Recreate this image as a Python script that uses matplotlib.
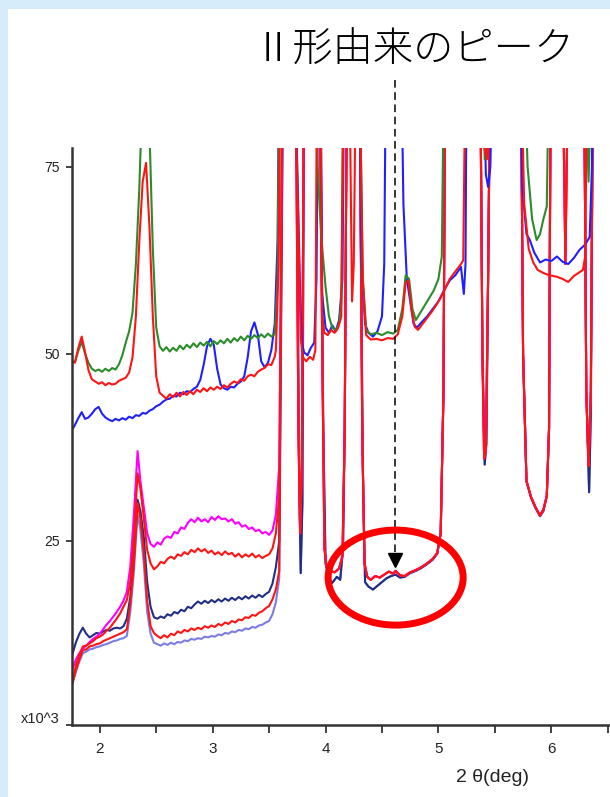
import matplotlib
matplotlib.use('Agg')
import matplotlib.pyplot as plt
from matplotlib.patches import Ellipse, Rectangle

plt.rcParams['font.family'] = ['Liberation Sans', 'DejaVu Sans']

# ---- low angle part (2theta grid) of the three upper scans
x_up = [1.754, 1.78, 1.81, 1.84, 1.87, 1.90, 1.93, 1.96, 1.99, 2.02, 2.05, 2.08, 2.11, 2.14, 2.17,
        2.20, 2.23, 2.26, 2.29, 2.32, 2.35, 2.38, 2.41, 2.44, 2.47, 2.50, 2.53, 2.56, 2.59, 2.62,
        2.65, 2.68, 2.71, 2.74, 2.77, 2.80, 2.83, 2.86, 2.89, 2.92, 2.95, 2.98, 3.01, 3.04, 3.07,
        3.10, 3.13, 3.16, 3.19, 3.22, 3.25, 3.28, 3.31, 3.34, 3.37, 3.40, 3.43, 3.46, 3.49, 3.52, 3.55]
green_left = [49.0, 48.9, 50.4, 51.6, 50.0, 48.8, 48.0, 47.7, 47.9, 47.6,
              48.0, 47.7, 48.1, 47.9, 48.6, 49.8, 51.5, 53.0, 55.5, 62.0,
              72.0, 86.0, 92.0, 80.0, 64.0, 53.5, 51.0, 50.4, 50.9, 50.3,
              50.8, 50.4, 51.1, 50.6, 51.2, 50.8, 51.4, 50.9, 51.5, 51.1,
              51.6, 51.0, 51.7, 51.3, 51.8, 51.4, 52.0, 51.5, 52.1, 51.7,
              52.3, 51.8, 52.4, 52.0, 52.5, 52.1, 52.6, 52.2, 52.7, 52.3, 52.6]
red_up_left = [49.0, 48.8, 50.8, 52.3, 50.2, 47.8, 46.6, 46.3, 46.0, 46.2,
               45.8, 46.1, 45.9, 46.0, 46.4, 46.6, 46.8, 47.5, 49.5, 55.0,
               65.0, 73.0, 75.5, 67.0, 55.0, 47.0, 44.8, 44.4, 44.0, 44.6,
               44.2, 44.8, 44.3, 44.9, 44.5, 45.0, 44.6, 45.2, 44.9, 45.4,
               45.0, 45.5, 45.2, 45.6, 45.3, 45.8, 45.5, 46.0, 46.3, 46.1,
               46.6, 46.4, 47.0, 47.2, 47.0, 47.6, 47.9, 48.1, 48.6, 48.5, 49.6]
blue_up_left = [39.8, 40.5, 41.4, 42.2, 41.3, 41.5, 42.0, 42.6, 42.9, 42.0,
                41.5, 41.2, 41.0, 41.3, 41.1, 41.4, 41.2, 41.6, 41.4, 41.8,
                41.7, 42.1, 42.0, 42.4, 42.6, 43.0, 43.2, 43.6, 43.9, 44.0,
                44.4, 44.3, 44.8, 44.6, 45.0, 44.9, 45.3, 45.6, 46.5, 48.5,
                51.0, 52.0, 51.2, 48.0, 45.9, 45.4, 45.2, 45.6, 45.5, 46.0,
                46.3, 47.0, 49.5, 53.0, 54.2, 52.6, 49.0, 48.2, 48.8, 50.5, 54.0]

# ---- high angle part of the upper scans (90 = off scale)
green_tail_x = [3.575, 3.59, 3.90, 3.93, 3.96, 4.00, 4.03, 4.06, 4.09, 4.12, 4.14, 4.16, 4.30,
                4.33, 4.36, 4.40, 4.45, 4.50, 4.55, 4.60, 4.64, 4.68, 4.71, 4.74, 4.77, 4.80,
                4.84, 4.88, 4.92, 4.96, 5.00, 5.03, 5.05, 5.39, 5.41, 5.43, 5.45, 5.76, 5.79,
                5.83, 5.87, 5.90, 5.93, 5.96, 5.98, 6.30, 6.33, 6.36, 6.52]
green_tail = [60, 90, 90, 75, 66, 59, 55, 53.5, 53.2, 54, 57, 90, 90,
              60, 53.2, 52.6, 52.8, 52.5, 52.9, 52.7, 53.2, 56, 60.5, 60, 56, 54.5,
              55.5, 56.5, 57.5, 58.5, 60, 63, 90, 90, 76, 78, 90, 90, 75,
              68, 65.2, 66, 68, 69.7, 90, 90, 73, 90, 90]
red_up_tail_x = [3.56, 3.585, 3.60, 3.72, 3.755, 3.78, 3.80, 3.83, 3.86, 3.89, 3.91, 3.925,
                 3.955, 3.97, 3.99, 4.02, 4.05, 4.08, 4.11, 4.14, 4.16, 4.21, 4.235, 4.25,
                 4.27, 4.30, 4.33, 4.36, 4.40, 4.45, 4.50, 4.55, 4.60, 4.64, 4.68, 4.71,
                 4.735, 4.76, 4.79, 4.82, 4.86, 4.90, 4.94, 4.98, 5.02, 5.06, 5.10, 5.15,
                 5.20, 5.22, 5.24, 5.38, 5.40, 5.43, 5.46, 5.73, 5.76, 5.80, 5.84, 5.88,
                 5.93, 5.98, 6.05, 6.10, 6.15, 6.20, 6.25, 6.28, 6.30, 6.32, 6.52]
red_up_tail = [50.5, 62, 90, 90, 70, 52, 49.5, 49.0, 49.6, 49.2, 50.5, 90,
               90, 55, 52.8, 52.5, 53.2, 52.8, 53.4, 55, 90, 90, 57, 62,
               90, 90, 60, 52.5, 51.9, 52.0, 51.8, 52.1, 52.0, 52.6, 55, 59.5,
               59.8, 56, 53.6, 53.2, 54, 54.8, 55.6, 56.5, 57.5, 58.7, 60, 61,
               62, 62.5, 90, 90, 78, 76, 90, 90, 70, 64, 62.2, 61.2,
               60.8, 60.5, 60.3, 60.0, 59.6, 60.4, 60.9, 61.2, 63, 90, 90]
blue_up_tail_x = [3.575, 3.59, 3.72, 3.75, 3.775, 3.79, 3.81, 3.84, 3.87, 3.90, 3.92, 3.935,
                  3.955, 3.97, 4.00, 4.03, 4.06, 4.09, 4.12, 4.15, 4.165, 4.30, 4.32, 4.35,
                  4.38, 4.42, 4.46, 4.50, 4.52, 4.535, 4.67, 4.69, 4.72, 4.75, 4.78, 4.81,
                  4.85, 4.90, 4.95, 5.00, 5.05, 5.10, 5.15, 5.20, 5.225, 5.24, 5.25, 5.40,
                  5.42, 5.44, 5.46, 5.48, 5.72, 5.745, 5.78, 5.81, 5.85, 5.90, 5.95, 6.00,
                  6.05, 6.10, 6.15, 6.20, 6.25, 6.30, 6.34, 6.36, 6.37, 6.52]
blue_up_tail = [65, 90, 90, 75, 58, 51.5, 50.2, 49.8, 50.8, 51.5, 60, 90,
                90, 58, 53.5, 52.8, 53.8, 53.0, 54.5, 60, 90, 90, 62, 54,
                52.8, 52.3, 53.0, 55, 62, 90, 90, 70, 60, 57, 54, 53.5,
                54.2, 55, 56, 57, 58.5, 59.8, 60.5, 61.6, 58, 62, 90, 90,
                74, 72.3, 75, 90, 90, 72, 66, 65.2, 63.5, 62.2, 62.6, 62.4,
                63, 62.3, 62.0, 62.8, 63.9, 64.6, 65.6, 75, 90, 90]

# ---- low angle part of the five lower scans
x_low = [1.76, 1.79, 1.82, 1.85, 1.88, 1.91, 1.94, 1.97, 2.00, 2.03, 2.06, 2.09, 2.12, 2.15,
         2.18, 2.21, 2.24, 2.27, 2.30, 2.335, 2.36, 2.39, 2.42, 2.45, 2.48, 2.51, 2.54, 2.57,
         2.60, 2.63, 2.66, 2.69, 2.72, 2.75, 2.78, 2.81, 2.84, 2.87, 2.90, 2.93, 2.96, 2.99,
         3.02, 3.05, 3.08, 3.11, 3.14, 3.17, 3.20, 3.23, 3.26, 3.29, 3.32, 3.35, 3.38, 3.41,
         3.44, 3.47, 3.50, 3.53, 3.56, 3.59]
magenta_left = [8.0, 9.2, 10.0, 10.6, 11.0, 11.5, 11.9, 12.2, 12.6, 13.2,
                13.8, 14.3, 14.9, 15.5, 16.2, 17.0, 18.2, 21.5, 28.0, 37.0,
                33.0, 29.5, 26.0, 24.6, 24.2, 24.8, 24.5, 25.3, 25.6, 25.4,
                26.2, 26.0, 26.8, 26.6, 27.4, 27.9, 27.5, 28.1, 27.6, 27.9,
                27.5, 28.2, 27.8, 28.3, 27.9, 28.0, 27.6, 27.9, 27.3, 27.5,
                26.9, 27.1, 26.6, 26.8, 26.3, 26.5, 26.0, 26.2, 25.8, 26.4,
                28.5, 35.0]
red_low1_left = [6.4, 8.5, 9.8, 10.9, 11.0, 11.3, 11.6, 12.0, 12.2, 12.5,
                 13.0, 13.4, 14.0, 14.6, 15.3, 16.2, 17.1, 19.5, 25.0, 34.0,
                 32.0, 28.0, 23.8, 22.0, 21.2, 21.6, 22.2, 22.0, 22.6, 22.9,
                 22.6, 23.2, 23.0, 23.5, 23.2, 23.8, 23.5, 24.0, 23.6, 23.9,
                 23.4, 23.7, 23.2, 23.5, 23.1, 23.6, 23.2, 23.4, 22.9, 23.3,
                 22.8, 23.2, 22.9, 23.3, 22.8, 23.1, 22.7, 23.0, 23.2, 24.0,
                 26.0, 31.0]
navy_left = [10.0, 11.5, 12.6, 13.4, 12.6, 12.1, 12.4, 12.7, 12.6, 12.9,
             13.1, 13.0, 13.3, 13.4, 13.3, 13.6, 14.6, 17.5, 22.5, 30.5,
             29.0, 25.5, 19.5, 16.2, 14.8, 14.6, 14.9, 14.7, 15.2, 15.0,
             15.5, 15.3, 15.8, 15.6, 16.2, 16.0, 16.5, 16.9, 16.6, 17.0,
             16.7, 17.1, 16.8, 17.2, 16.9, 17.3, 17.0, 17.4, 17.1, 17.5,
             17.2, 17.6, 17.3, 17.7, 17.4, 17.8, 17.5, 17.9, 18.2, 19.3,
             21.5, 25.0]
red_low2_left = [6.0, 7.8, 9.2, 10.4, 10.5, 10.9, 11.0, 11.2, 11.3, 11.6,
                 11.8, 12.0, 12.2, 12.4, 12.6, 12.8, 13.2, 16.5, 21.5, 30.0,
                 28.0, 23.5, 17.0, 13.6, 12.7, 12.3, 12.0, 12.4, 12.1, 12.6,
                 12.4, 12.9, 12.7, 13.1, 12.9, 13.3, 13.1, 13.4, 13.2, 13.6,
                 13.4, 13.7, 13.5, 13.9, 13.7, 14.1, 13.9, 14.3, 14.1, 14.5,
                 14.4, 14.8, 14.7, 15.1, 15.0, 15.4, 15.6, 16.0, 16.3, 17.2,
                 18.5, 21.0]
lavender_left = [6.2, 7.6, 8.9, 10.0, 10.2, 10.5, 10.6, 10.8, 10.9, 11.1,
                 11.2, 11.4, 11.6, 11.7, 11.9, 12.0, 12.3, 15.5, 20.5, 28.5,
                 26.5, 22.0, 15.5, 12.6, 11.4, 11.2, 11.0, 11.3, 11.1, 11.4,
                 11.2, 11.5, 11.4, 11.7, 11.6, 11.9, 11.8, 12.0, 11.9, 12.2,
                 12.1, 12.3, 12.2, 12.5, 12.4, 12.7, 12.6, 12.9, 12.8, 13.1,
                 13.0, 13.3, 13.2, 13.5, 13.4, 13.7, 13.8, 14.1, 14.3, 15.2,
                 16.8, 20.0]

# ---- high angle part of the lower scans (red/magenta and blue ones)
low_red_tail_x = [3.62, 3.735, 3.76, 3.775, 3.79, 3.81, 3.945, 3.975, 3.99, 4.01, 4.04, 4.08,
                  4.12, 4.15, 4.17, 4.19, 4.30, 4.325, 4.345, 4.37, 4.40, 4.44, 4.48, 4.52,
                  4.56, 4.60, 4.62, 4.66, 4.70, 4.75, 4.80, 4.85, 4.90, 4.95, 4.99, 5.02,
                  5.045, 5.06, 5.37, 5.39, 5.405, 5.42, 5.44, 5.46, 5.73, 5.75, 5.78, 5.82,
                  5.86, 5.90, 5.93, 5.96, 5.98, 5.995, 6.10, 6.125, 6.15, 6.29, 6.31, 6.33,
                  6.35, 6.37, 6.52]
low_red_tail = [90, 90, 40, 26, 35, 90, 90, 45, 24, 21.5, 21, 20.8,
                21.3, 23, 40, 90, 90, 40, 22, 20.2, 19.8, 20.3, 20.1, 20.5,
                20.9, 20.6, 21.0, 20.4, 20.3, 20.8, 21.1, 21.5, 22.0, 22.6, 23.4, 26,
                45, 90, 90, 50, 36, 37, 60, 90, 90, 50, 33, 30.9,
                29.5, 28.4, 29.2, 31, 40, 90, 90, 62, 90, 90, 45, 35,
                45, 90, 90]
low_blue_tail_x = [3.625, 3.74, 3.765, 3.78, 3.795, 3.81, 3.95, 3.98, 4.00, 4.03, 4.06, 4.10,
                   4.13, 4.155, 4.17, 4.19, 4.30, 4.33, 4.35, 4.38, 4.42, 4.46, 4.50, 4.54,
                   4.58, 4.62, 4.66, 4.70, 4.75, 4.80, 4.85, 4.90, 4.95, 4.99, 5.02, 5.045,
                   5.06, 5.37, 5.39, 5.41, 5.425, 5.44, 5.46, 5.73, 5.75, 5.78, 5.82, 5.86,
                   5.90, 5.93, 5.96, 5.98, 5.995, 6.29, 6.31, 6.335, 6.35, 6.37, 6.52]
low_blue_tail = [90, 90, 35, 20.7, 30, 90, 90, 40, 22, 20.0, 19.4, 20.2,
                 19.8, 24, 40, 90, 90, 35, 19.5, 18.9, 18.5, 19.0, 19.5, 20.0,
                 20.3, 20.5, 20.1, 20.2, 20.7, 21.0, 21.4, 21.9, 22.5, 23.3, 26, 45,
                 90, 90, 50, 35.2, 38, 60, 90, 90, 50, 33, 30.8, 29.4,
                 28.3, 29.0, 31, 40, 90, 90, 45, 31.5, 42, 90, 90]

# annotation: form II peak position
peak_x = 4.617
peak_y = 22.5

fig = plt.figure(figsize=(6.1, 7.97), dpi=100, facecolor='#d6ecfa')
fig.patches.append(Rectangle((8 / 610, 0), 1, 1 - 9 / 797, transform=fig.transFigure,
                             facecolor='white', edgecolor='none', zorder=-10))

ax = fig.add_axes([72 / 610, 1 - 725 / 797, 1 - 72 / 610, (725 - 148) / 797])
ax.set_facecolor('white')

lw = 1.5
ax.plot(x_low + low_blue_tail_x, lavender_left + low_blue_tail, color='#7c7ce6', lw=lw)
ax.plot(x_low + low_blue_tail_x, navy_left + low_blue_tail, color='#1f2f86', lw=lw)
ax.plot(x_low + low_red_tail_x, red_low2_left + low_red_tail, color='#ff1414', lw=lw)
ax.plot(x_low + low_red_tail_x, magenta_left + low_red_tail, color='#ff00ff', lw=lw)
ax.plot(x_low + low_red_tail_x, red_low1_left + low_red_tail, color='#ff1414', lw=lw)
ax.plot(x_up + blue_up_tail_x, blue_up_left + blue_up_tail, color='#2020ff', lw=lw)
ax.plot(x_up + green_tail_x, green_left + green_tail, color='#2a8c2a', lw=lw)
ax.plot(x_up + red_up_tail_x, red_up_left + red_up_tail, color='#ff1414', lw=lw)

ax.set_xlim(1.754, 6.52)
ax.set_ylim(0.4, 77.5)

for side in ['top', 'right']:
    ax.spines[side].set_visible(False)
for side in ['left', 'bottom']:
    ax.spines[side].set_linewidth(1.8)
    ax.spines[side].set_color('#333333')

ax.set_xticks([2, 3, 4, 5, 6])
ax.set_xticks([2.5, 3.5, 4.5, 5.5, 6.5], minor=True)
ax.tick_params(axis='x', which='both', direction='out', length=6, width=1.2,
               colors='#222222', labelsize=11, pad=6)
ax.set_yticks([0.4, 25, 50, 75])
ax.set_yticklabels(['', '25', '50', '75'])
ax.tick_params(axis='y', direction='out', length=4, width=1.2,
               colors='#222222', labelsize=10, pad=5)

fig.text(60 / 610, 1 - 719 / 797, 'x10^3', ha='right', va='center', fontsize=10.5, color='#222222')
fig.text(492 / 610, 1 - 778 / 797, '2 θ(deg)', ha='center', va='center', fontsize=14, color='#222222')

# dashed arrow from the label down to the peak
ax.plot([peak_x, peak_x], [86.6, peak_y + 1], ls=(0, (5, 3)), color='black', lw=1.1, clip_on=False)
ax.plot([peak_x], [peak_y], marker='v', ms=10, color='black', clip_on=False)
ax.add_patch(Ellipse((4.621, 20.1), 1.196, 12.7, fill=False, edgecolor='#ff0000', lw=5, zorder=5))

fig.text(414 / 610, 1 - 51 / 797, 'Ⅱ形由来のピーク', ha='center', va='center', fontsize=29,
         family=['Noto Sans CJK JP', 'DejaVu Sans'], fontweight='light')

fig.savefig('out.png', dpi=100, facecolor=fig.get_facecolor())
